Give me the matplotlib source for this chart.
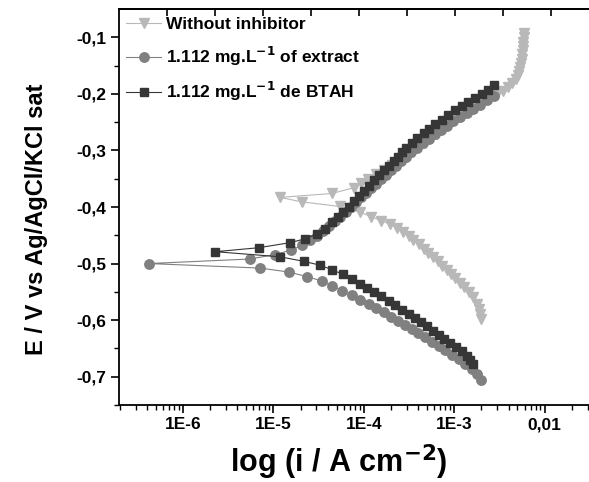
import numpy as np
import matplotlib.pyplot as plt
from matplotlib.ticker import FixedLocator, NullFormatter

plt.rcParams['font.family'] = ['Liberation Sans', 'DejaVu Sans']
plt.rcParams['font.weight'] = 'bold'

# potential (V) and log10 current density (A cm-2), scan from cathodic to anodic
E_blank = [-0.598, -0.589, -0.580, -0.571, -0.560, -0.551, -0.542, -0.534, -0.526, -0.518,
           -0.511, -0.504, -0.496, -0.489, -0.482, -0.474, -0.466, -0.459, -0.452, -0.445,
           -0.437, -0.430, -0.424, -0.417, -0.409, -0.399, -0.391, -0.383, -0.376, -0.366,
           -0.358, -0.350, -0.342, -0.334, -0.326, -0.318, -0.310, -0.302, -0.294, -0.286,
           -0.278, -0.270, -0.262, -0.254, -0.246, -0.238, -0.230, -0.222, -0.214, -0.207,
           -0.200, -0.194, -0.188, -0.181, -0.174, -0.167, -0.160, -0.153, -0.145, -0.138,
           -0.130, -0.123, -0.115, -0.108, -0.100, -0.093]
logi_blank = [-2.705, -2.713, -2.727, -2.749, -2.793, -2.838, -2.886, -2.934, -2.986, -3.033,
              -3.081, -3.133, -3.180, -3.229, -3.284, -3.339, -3.394, -3.450, -3.505, -3.567,
              -3.633, -3.715, -3.810, -3.920, -4.039, -4.267, -4.683, -4.923, -4.351, -4.113,
              -4.028, -3.950, -3.862, -3.773, -3.685, -3.597, -3.519, -3.453, -3.387, -3.320,
              -3.254, -3.188, -3.122, -3.055, -2.989, -2.912, -2.834, -2.757, -2.680, -2.602,
              -2.525, -2.459, -2.403, -2.359, -2.320, -2.298, -2.282, -2.271, -2.260, -2.252,
              -2.245, -2.241, -2.238, -2.234, -2.232, -2.230]

E_extract = [-0.706, -0.695, -0.686, -0.678, -0.669, -0.661, -0.653, -0.645, -0.638, -0.630,
             -0.623, -0.616, -0.608, -0.601, -0.594, -0.586, -0.579, -0.571, -0.564, -0.555,
             -0.548, -0.539, -0.531, -0.523, -0.515, -0.508, -0.500, -0.492, -0.484, -0.476,
             -0.468, -0.459, -0.451, -0.442, -0.434, -0.425, -0.417, -0.408, -0.400, -0.391,
             -0.383, -0.375, -0.367, -0.359, -0.351, -0.343, -0.335, -0.327, -0.319, -0.311,
             -0.303, -0.295, -0.287, -0.279, -0.271, -0.263, -0.256, -0.248, -0.241, -0.233,
             -0.226, -0.219, -0.211, -0.203]
logi_extract = [-2.702, -2.749, -2.804, -2.878, -2.952, -3.025, -3.099, -3.173, -3.246, -3.320,
                -3.395, -3.467, -3.541, -3.616, -3.700, -3.781, -3.862, -3.947, -4.039, -4.130,
                -4.241, -4.351, -4.462, -4.628, -4.831, -5.144, -6.378, -5.262, -4.978, -4.801,
                -4.683, -4.591, -4.514, -4.448, -4.381, -4.315, -4.260, -4.193, -4.138, -4.083,
                -4.028, -3.972, -3.917, -3.862, -3.807, -3.751, -3.696, -3.641, -3.586, -3.530,
                -3.475, -3.409, -3.343, -3.276, -3.210, -3.144, -3.077, -3.011, -2.934, -2.856,
                -2.790, -2.713, -2.635, -2.558]

E_btah = [-0.678, -0.670, -0.663, -0.655, -0.648, -0.641, -0.633, -0.626, -0.619, -0.611,
          -0.604, -0.596, -0.589, -0.582, -0.574, -0.567, -0.558, -0.551, -0.543, -0.536,
          -0.527, -0.519, -0.511, -0.503, -0.496, -0.488, -0.479, -0.472, -0.463, -0.456,
          -0.447, -0.438, -0.427, -0.418, -0.409, -0.400, -0.390, -0.380, -0.371, -0.362,
          -0.353, -0.344, -0.335, -0.327, -0.318, -0.311, -0.303, -0.295, -0.287, -0.278,
          -0.269, -0.262, -0.253, -0.246, -0.238, -0.229, -0.222, -0.214, -0.207, -0.200,
          -0.193, -0.185]
logi_btah = [-2.793, -2.822, -2.853, -2.915, -2.978, -3.044, -3.110, -3.173, -3.235, -3.302,
             -3.368, -3.431, -3.505, -3.578, -3.652, -3.726, -3.807, -3.884, -3.965, -4.046,
             -4.130, -4.230, -4.351, -4.481, -4.665, -4.930, -5.641, -5.162, -4.812, -4.646,
             -4.514, -4.425, -4.351, -4.290, -4.230, -4.168, -4.113, -4.057, -4.002, -3.947,
             -3.892, -3.836, -3.781, -3.726, -3.671, -3.616, -3.575, -3.530, -3.467, -3.406,
             -3.339, -3.273, -3.210, -3.136, -3.063, -2.989, -2.915, -2.842, -2.768, -2.694,
             -2.621, -2.555]

labels = ["Without inhibitor", "1.112 mg.L$^{\\mathbf{-1}}$ of extract", "1.112 mg.L$^{\\mathbf{-1}}$ de BTAH"]
xtick_vals = [1e-6, 1e-5, 1e-4, 1e-3, 1e-2]
xtick_labels = ["1E-6", "1E-5", "1E-4", "1E-3", "0,01"]
ytick_vals = [-0.1, -0.2, -0.3, -0.4, -0.5, -0.6, -0.7]
ytick_labels = ["-0,1", "-0,2", "-0,3", "-0,4", "-0,5", "-0,6", "-0,7"]

fig = plt.figure(figsize=(5.89, 4.82), dpi=100)
ax = fig.add_axes([0.202, 0.160, 0.798, 0.821])

ax.plot(10 ** np.array(logi_blank), E_blank, marker='v', ms=7.5, color='#b8b8b8',
        mec='#b8b8b8', lw=0.8, label=labels[0])
ax.plot(10 ** np.array(logi_extract), E_extract, marker='o', ms=6.8, color='#808080',
        mec='#808080', lw=0.8, label=labels[1])
ax.plot(10 ** np.array(logi_btah), E_btah, marker='s', ms=6.3, color='#363636',
        mec='#363636', lw=0.8, label=labels[2])

ax.set_xscale('log')
ax.set_xlim(1.96e-7, 3.1e-2)
ax.set_ylim(-0.75, -0.05)

ax.xaxis.set_major_locator(FixedLocator(xtick_vals))
ax.set_xticklabels(xtick_labels)
ax.set_yticks(ytick_vals)
ax.set_yticklabels(ytick_labels)
ax.yaxis.set_minor_locator(FixedLocator(np.arange(-0.75, -0.05, 0.05)))
ax.xaxis.set_minor_formatter(NullFormatter())

ax.tick_params(which='major', direction='out', length=6, width=1.2, labelsize=12.5, pad=3)
ax.tick_params(which='minor', direction='out', length=3.5, width=1.0)
ax.tick_params(top=False, right=False)
for lab in ax.get_xticklabels() + ax.get_yticklabels():
    lab.set_fontweight('bold')

for side in ['left', 'bottom', 'top']:
    ax.spines[side].set_linewidth(1.3)
ax.spines['right'].set_visible(False)

# top axis ticks
ax2 = ax.twiny()
ax2.set_xlim(0, 9.8)
ax2.set_xticks(range(1, 10))
ax2.tick_params(axis='x', direction='in', length=5, width=1.2, labeltop=False)
for side in ['left', 'right', 'bottom']:
    ax2.spines[side].set_visible(False)
ax2.spines['top'].set_linewidth(1.3)

ax.set_ylabel("E / V vs Ag/AgCl/KCl sat", fontsize=17, fontweight='bold')
ax.yaxis.set_label_coords(-0.152, 0.47)
ax.set_xlabel("log (i / A cm$^{\\mathbf{-2}}$)", fontsize=22, fontweight='bold')
ax.xaxis.set_label_coords(0.468, -0.095)

leg = ax.legend(loc='upper left', bbox_to_anchor=(-0.018, 1.02), frameon=False,
                handlelength=2.0, handletextpad=0.3, labelspacing=0.72,
                prop={'weight': 'bold', 'size': 12.5})

fig.savefig("out.png", dpi=100)
